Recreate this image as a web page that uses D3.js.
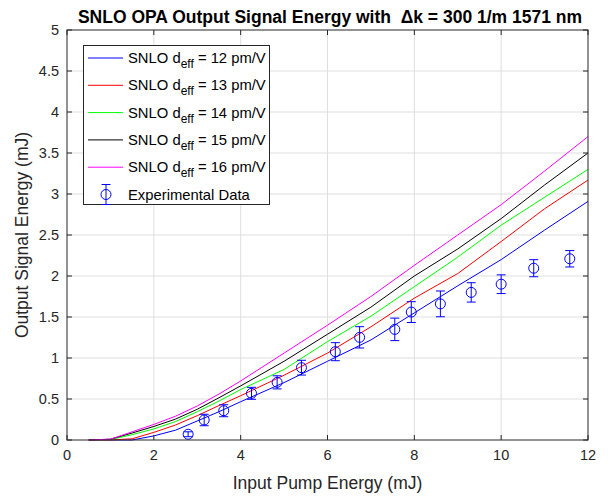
<!DOCTYPE html>
<html>
<head>
<meta charset="utf-8">
<script src="https://cdn.jsdelivr.net/npm/d3@7"></script>
<style>
    body { margin: 0; background: #fff; }
    svg { font-family: 'Liberation Sans', Arial, sans-serif; }
</style>
</head>
<body>
<svg id="chart" width="611" height="498"></svg>
<script>

// pump energy (mJ) at which SNLO was evaluated
const pump = [0.5, 1, 1.5, 2, 2.5, 3, 3.5, 4, 5, 6, 7, 8, 9, 10, 11, 12];

const snlo12 = [0, 0, 0, 0.05, 0.12, 0.232, 0.345, 0.467, 0.70, 0.96, 1.22, 1.55, 1.88, 2.20, 2.56, 2.91];
const snlo13 = [0, 0, 0.015, 0.093, 0.183, 0.297, 0.42, 0.54, 0.79, 1.06, 1.38, 1.73, 2.03, 2.42, 2.82, 3.17];
const snlo14 = [0, 0.005, 0.065, 0.135, 0.225, 0.345, 0.475, 0.615, 0.86, 1.20, 1.51, 1.87, 2.23, 2.62, 2.96, 3.30];
const snlo15 = [0, 0.01, 0.085, 0.165, 0.255, 0.375, 0.515, 0.66, 0.96, 1.29, 1.62, 2.00, 2.33, 2.70, 3.11, 3.50];
const snlo16 = [0, 0.01, 0.10, 0.19, 0.29, 0.415, 0.56, 0.72, 1.06, 1.40, 1.75, 2.13, 2.50, 2.87, 3.28, 3.70];

const expPump = [2.79, 3.16, 3.61, 4.25, 4.84, 5.40, 6.18, 6.74, 7.55, 7.93, 8.60, 9.31, 10.0, 10.75, 11.58];
const expSignal = [0.07, 0.244, 0.357, 0.569, 0.703, 0.882, 1.077, 1.252, 1.349, 1.56, 1.66, 1.80, 1.90, 2.095, 2.21];
const expErr = [0.03, 0.07, 0.073, 0.073, 0.08, 0.09, 0.11, 0.13, 0.137, 0.127, 0.157, 0.118, 0.114, 0.104, 0.10];

const deffs = [12, 13, 14, 15, 16];
const colors = ['#0000ff', '#ff0000', '#00ff00', '#000000', '#ff00ff'];
const xTicks = [0, 2, 4, 6, 8, 10, 12];
const yTicks = [0, 0.5, 1, 1.5, 2, 2.5, 3, 3.5, 4, 4.5, 5];

main();

function main() {

    let svg = d3.select('#chart');
    let left = 67, right = 588, top = 30, bottom = 440;
    let axisColor = '#262626';

    let x = d3.scaleLinear().domain([0, 12]).range([left, right]);
    let y = d3.scaleLinear().domain([0, 5]).range([bottom, top]);

    // grid
    svg.append('g').selectAll('line').data(xTicks.slice(1, -1)).enter().append('line')
        .attr('x1', x).attr('x2', x).attr('y1', top).attr('y2', bottom)
        .attr('stroke', '#dfdfdf').attr('stroke-width', 1);
    svg.append('g').selectAll('line').data(yTicks.slice(1, -1)).enter().append('line')
        .attr('y1', y).attr('y2', y).attr('x1', left).attr('x2', right)
        .attr('stroke', '#dfdfdf').attr('stroke-width', 1);

    // curves
    let series = [snlo12, snlo13, snlo14, snlo15, snlo16];
    let line = d3.line().x((d, i) => x(pump[i])).y((d) => y(d));
    svg.append('g').selectAll('path').data(series).enter().append('path')
        .attr('d', line)
        .attr('fill', 'none')
        .attr('stroke', (d, i) => colors[i])
        .attr('stroke-width', 1);

    // experimental points with error bars
    let pts = svg.append('g').attr('stroke', '#0000ff').attr('fill', 'none').attr('stroke-width', 1)
        .selectAll('g').data(expPump).enter().append('g');
    pts.append('line')
        .attr('x1', (d) => x(d)).attr('x2', (d) => x(d))
        .attr('y1', (d, i) => y(expSignal[i] - expErr[i]))
        .attr('y2', (d, i) => y(expSignal[i] + expErr[i]));
    pts.append('line')
        .attr('x1', (d) => x(d) - 4.5).attr('x2', (d) => x(d) + 4.5)
        .attr('y1', (d, i) => y(expSignal[i] - expErr[i]))
        .attr('y2', (d, i) => y(expSignal[i] - expErr[i]));
    pts.append('line')
        .attr('x1', (d) => x(d) - 4.5).attr('x2', (d) => x(d) + 4.5)
        .attr('y1', (d, i) => y(expSignal[i] + expErr[i]))
        .attr('y2', (d, i) => y(expSignal[i] + expErr[i]));
    pts.append('circle')
        .attr('cx', (d) => x(d)).attr('cy', (d, i) => y(expSignal[i]))
        .attr('r', 5);

    // axes box and ticks (matlab style: inward, on all four sides)
    svg.append('rect')
        .attr('x', left).attr('y', top).attr('width', right - left).attr('height', bottom - top)
        .attr('fill', 'none').attr('stroke', axisColor).attr('stroke-width', 1);

    let tickLen = 5;
    let ticks = svg.append('g').attr('stroke', axisColor).attr('stroke-width', 1);
    ticks.selectAll('.xb').data(xTicks).enter().append('line')
        .attr('x1', x).attr('x2', x).attr('y1', bottom).attr('y2', bottom - tickLen);
    ticks.selectAll('.xt').data(xTicks).enter().append('line')
        .attr('x1', x).attr('x2', x).attr('y1', top).attr('y2', top + tickLen);
    ticks.selectAll('.yl').data(yTicks).enter().append('line')
        .attr('y1', y).attr('y2', y).attr('x1', left).attr('x2', left + tickLen);
    ticks.selectAll('.yr').data(yTicks).enter().append('line')
        .attr('y1', y).attr('y2', y).attr('x1', right).attr('x2', right - tickLen);

    svg.append('g').selectAll('text').data(xTicks).enter().append('text')
        .attr('x', x).attr('y', bottom + 20)
        .attr('text-anchor', 'middle').attr('font-size', 14.5).attr('fill', axisColor)
        .text((d) => d);
    svg.append('g').selectAll('text').data(yTicks).enter().append('text')
        .attr('x', left - 8).attr('y', (d) => y(d) + 5)
        .attr('text-anchor', 'end').attr('font-size', 14.5).attr('fill', axisColor)
        .text((d) => d);

    // labels
    svg.append('text')
        .attr('x', (left + right)/2).attr('y', 489)
        .attr('text-anchor', 'middle').attr('font-size', 17.5).attr('fill', axisColor)
        .text('Input Pump Energy (mJ)');
    svg.append('text')
        .attr('transform', `translate(28,${(top + bottom)/2}) rotate(-90)`)
        .attr('text-anchor', 'middle').attr('font-size', 17.5).attr('fill', axisColor)
        .text('Output Signal Energy (mJ)');
    svg.append('text')
        .attr('x', 330).attr('y', 23)
        .attr('text-anchor', 'middle').attr('font-size', 17.5).attr('font-weight', 'bold').attr('fill', '#000')
        .attr('xml:space', 'preserve')
        .text('SNLO OPA Output Signal Energy with  \u0394k = 300 1/m 1571 nm');

    // legend
    let lg = svg.append('g');
    lg.append('rect')
        .attr('x', 83.5).attr('y', 45.5).attr('width', 186).attr('height', 159)
        .attr('fill', '#fff').attr('stroke', axisColor).attr('stroke-width', 1);
    let rowY = (i) => 58 + i*27.3;
    let items = lg.selectAll('.item').data(deffs).enter().append('g');
    items.append('line')
        .attr('x1', 88).attr('x2', 123).attr('y1', (d, i) => rowY(i)).attr('y2', (d, i) => rowY(i))
        .attr('stroke', (d, i) => colors[i]).attr('stroke-width', 1);
    let label = items.append('text')
        .attr('x', 128).attr('y', (d, i) => rowY(i) + 5)
        .attr('font-size', 14.8).attr('fill', '#000');
    label.append('tspan').text('SNLO d');
    label.append('tspan').attr('font-size', 12).attr('dy', 5).text('eff');
    label.append('tspan').attr('dy', -5).text((d) => ` = ${d} pm/V`);

    let ey = rowY(5);
    let eg = lg.append('g').attr('stroke', '#0000ff').attr('fill', 'none').attr('stroke-width', 1);
    eg.append('line').attr('x1', 106).attr('x2', 106).attr('y1', ey - 10).attr('y2', ey + 10);
    eg.append('line').attr('x1', 101.5).attr('x2', 110.5).attr('y1', ey - 10).attr('y2', ey - 10);
    eg.append('line').attr('x1', 101.5).attr('x2', 110.5).attr('y1', ey + 10).attr('y2', ey + 10);
    eg.append('circle').attr('cx', 106).attr('cy', ey).attr('r', 5);
    lg.append('text')
        .attr('x', 128).attr('y', ey + 5)
        .attr('font-size', 14.8).attr('fill', '#000')
        .text('Experimental Data');
}

</script>
</body>
</html>
